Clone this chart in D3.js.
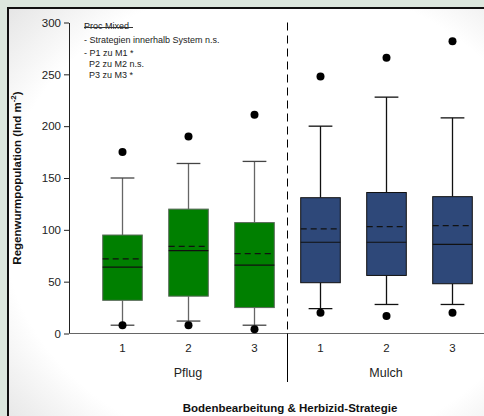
<!DOCTYPE html>
<html><head><meta charset="utf-8">
<script src="https://cdn.jsdelivr.net/npm/d3@7"></script>
<style>
html,body{margin:0;padding:0;background:#dce7de;}
svg{display:block;font-family:"Liberation Sans",Arial,sans-serif;}
</style></head>
<body>
<svg id="c" width="484" height="416"></svg>
<script>
const groups = ["P1","P2","P3","M1","M2","M3"];
const tickLabels = ["1","2","3","1","2","3"];
const systems = ["Pflug","Mulch"];
const q1 =      [32, 36, 25, 49, 56, 48];
const median =  [64, 80, 66, 88, 88, 86];
const q3 =      [95, 120, 107, 131, 136, 132];
const mean =    [72, 84, 77, 101, 103, 104];
const whiskLo = [8, 12, 8, 24, 28, 28];
const whiskHi = [150, 164, 166, 200, 228, 208];
const outLo =   [8, 8, 4, 20, 17, 20];
const outHi =   [175, 190, 211, 248, 266, 282];
const yTicks = [0, 50, 100, 150, 200, 250, 300];
const notes = ["Proc Mixed","- Strategien innerhalb System n.s.","- P1 zu M1 *","  P2 zu M2 n.s.","  P3 zu M3 *"];

const svg = d3.select("#c");
const defs = svg.append("defs");
const rg = defs.append("radialGradient").attr("id","vig").attr("cx","0.55").attr("cy","0.5").attr("r","0.75");
rg.append("stop").attr("offset","0.75").attr("stop-color","#ffffff");
rg.append("stop").attr("offset","1").attr("stop-color","#e4e4e4");
svg.append("rect").attr("x",8).attr("y",8).attr("width",490).attr("height",420)
  .attr("fill","url(#vig)").attr("stroke","#111").attr("stroke-width",2);

const x0 = 69, xR = 484;
const y = d3.scaleLinear().domain([0,300]).range([333.5,22.5]);
const x = d3.scaleBand().domain(groups).range([89, 485]).paddingInner(0.4).paddingOuter(0.2);
const cx = g => x(g) + x.bandwidth()/2;

// Y axis
const yAx = svg.append("g").attr("transform",`translate(${x0},0)`)
  .call(d3.axisLeft(y).tickValues(yTicks).tickSize(5).tickSizeOuter(0));
yAx.select(".domain").attr("stroke","#222");
yAx.selectAll(".tick line").attr("stroke","#222");
yAx.selectAll(".tick text").attr("font-size",11.5).attr("fill","#222").attr("font-family","Liberation Sans, Arial, sans-serif");

// X axis line
svg.append("line").attr("x1",x0).attr("x2",xR).attr("y1",y(0)).attr("y2",y(0)).attr("stroke","#666").attr("stroke-width",1.2);

// divider
const divX = Math.floor((cx("P3")+cx("M1"))/2) + 0.5;
svg.append("line").attr("x1",divX).attr("x2",divX).attr("y1",y(300)).attr("y2",y(0))
  .attr("stroke","#000").attr("stroke-dasharray","8,5").attr("stroke-width",1);
svg.append("line").attr("x1",divX).attr("x2",divX).attr("y1",y(0)).attr("y2",382)
  .attr("stroke","#000").attr("stroke-width",1);

// boxes
groups.forEach((g,i)=>{
  const c = Math.round(cx(g)) + 0.5, w = x.bandwidth();
  const isP = i<3;
  const fill = isP ? "#007f00" : "#2e4879";
  const edge = isP ? "#5a6a5a" : "#111";
  const wc = isP ? "#666" : "#111";
  const capC = isP ? "#444" : "#111";
  const gg = svg.append("g");
  gg.append("line").attr("x1",c).attr("x2",c).attr("y1",y(q3[i])).attr("y2",y(whiskHi[i])).attr("stroke",wc).attr("stroke-width",1.3);
  gg.append("line").attr("x1",c).attr("x2",c).attr("y1",y(q1[i])).attr("y2",y(whiskLo[i])).attr("stroke",wc).attr("stroke-width",1.3);
  gg.append("line").attr("x1",c-w*0.3).attr("x2",c+w*0.3).attr("y1",y(whiskHi[i])).attr("y2",y(whiskHi[i])).attr("stroke",capC).attr("stroke-width",1.3);
  gg.append("line").attr("x1",c-w*0.3).attr("x2",c+w*0.3).attr("y1",y(whiskLo[i])).attr("y2",y(whiskLo[i])).attr("stroke",capC).attr("stroke-width",1.3);
  gg.append("rect").attr("x",c-w/2).attr("y",y(q3[i])).attr("width",w).attr("height",y(q1[i])-y(q3[i]))
    .attr("fill",fill).attr("stroke",edge).attr("stroke-width",1);
  gg.append("line").attr("x1",c-w/2).attr("x2",c+w/2).attr("y1",y(median[i])).attr("y2",y(median[i])).attr("stroke","#111").attr("stroke-width",1.2);
  gg.append("line").attr("x1",c-w/2).attr("x2",c+w/2).attr("y1",y(mean[i])).attr("y2",y(mean[i])).attr("stroke","#111").attr("stroke-width",1.2).attr("stroke-dasharray","6,4");
  [outLo[i],outHi[i]].forEach(v=>{
    gg.append("circle").attr("cx",c).attr("cy",y(v)).attr("r",4).attr("fill","#000");
  });
  svg.append("text").attr("x",c).attr("y",352).attr("text-anchor","middle").attr("font-size",11.5).attr("fill","#222").text(tickLabels[i]);
});

systems.forEach((s,k)=>{
  const c = cx(groups[k*3+1]);
  svg.append("text").attr("x",c).attr("y",377).attr("text-anchor","middle").attr("font-size",12.5).attr("fill","#222").text(s);
});

svg.append("text").attr("x",290).attr("y",412).attr("text-anchor","middle").attr("font-size",11.5).attr("font-weight","bold").attr("fill","#111")
  .text("Bodenbearbeitung & Herbizid-Strategie");
const yt = svg.append("text").attr("transform",`translate(21,${y(150)}) rotate(-90)`).attr("text-anchor","middle")
  .attr("font-size",11.5).attr("font-weight","bold").attr("fill","#111");
yt.append("tspan").text("Regenwurmpopulation (Ind m");
yt.append("tspan").attr("font-size",8).attr("dy",-5).text("-2");
yt.append("tspan").attr("dy",5).text(")");

const ny = [29, 43, 56, 67, 78];
notes.forEach((t,i)=>{
  svg.append("text").attr("x",84).attr("y",ny[i]).attr("font-size",9).attr("fill","#222")
    .attr("xml:space","preserve").style("white-space","pre").text(t);
});
svg.append("line").attr("x1",84).attr("x2",133).attr("y1",27.5).attr("y2",27.5).attr("stroke","#333").attr("stroke-width",1);
</script>
</body></html>
